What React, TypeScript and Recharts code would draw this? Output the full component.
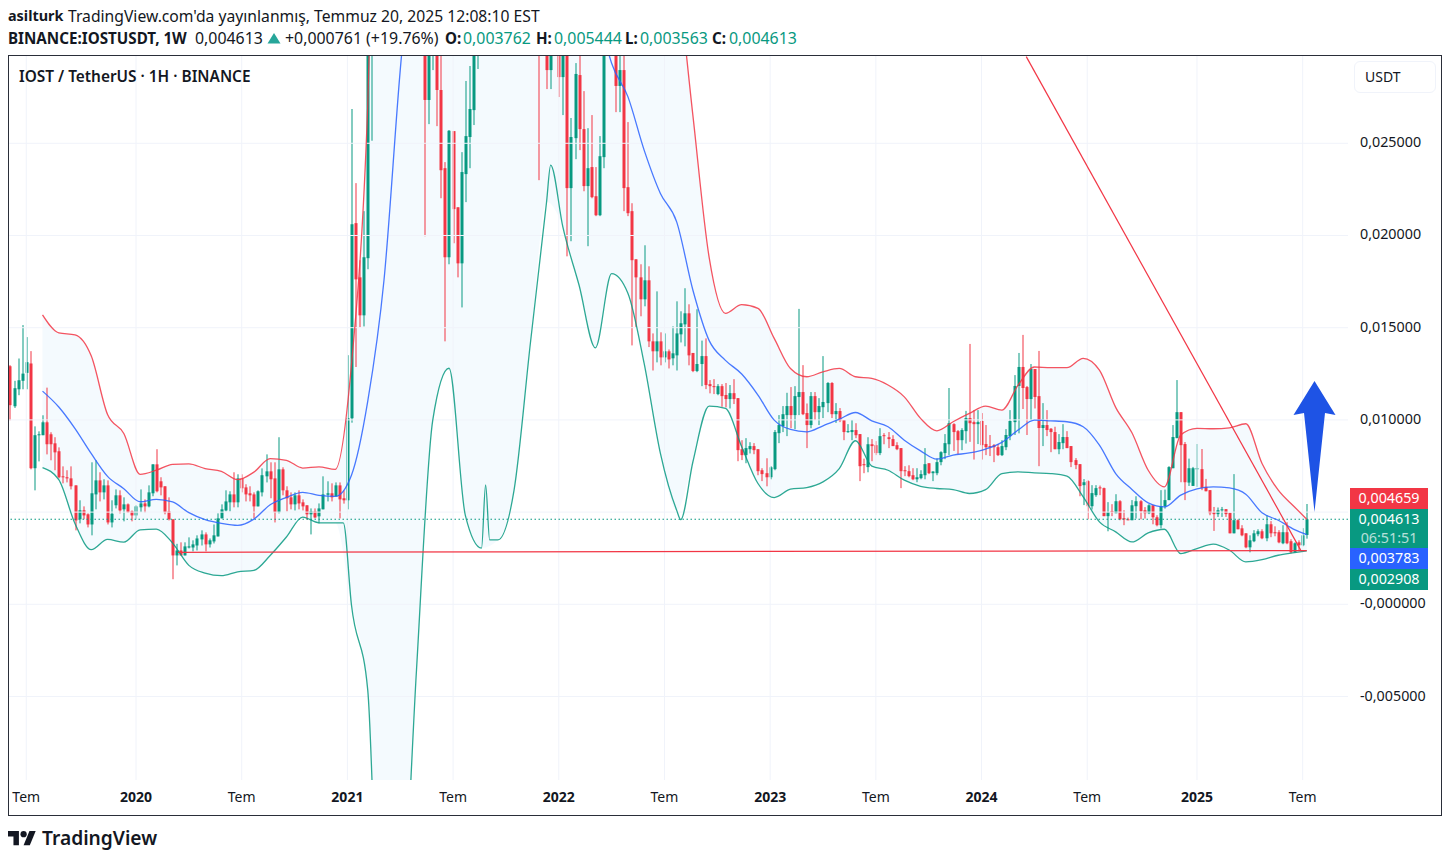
import React from 'react';
import { ComposedChart, Area, Bar, Line, XAxis, YAxis, ReferenceLine } from 'recharts';

// weekly candles [open, high, low, close], in 0.00001 USDT
const candles2019 = [
  [1291,1297,998,1080],[1074,1212,1065,1172],[1166,1333,1134,1215],[1212,1514,1166,1251],[1255,1449,1166,1313],
  [1306,1373,732,738],[738,965,618,917],[917,938,775,922],[917,1025,917,987],[987,1175,813,868],
  [922,933,781,868],[873,906,727,824],[830,851,683,689],[694,748,656,689],[689,727,661,683],
  [683,748,623,640],[645,645,401,455],[461,564,439,510],[510,531,461,482],[488,493,417,433],
  [433,770,374,602],[596,781,515,672],[672,716,558,607],[607,678,569,645],[645,672,433,444],
  [444,564,417,491],[537,623,520,591],[591,618,493,509],[515,580,450,542],[542,547,497,499],[504,509,450,482],
];
const candles2020 = [
  [482,537,460,531],[526,623,500,547],[547,569,498,531],[531,645,526,607],[602,759,586,759],
  [759,841,607,613],[667,689,591,634],[640,640,488,499],[504,580,455,461],[461,461,136,265],
  [265,328,211,292],[292,336,265,265],[265,336,265,314],[308,363,303,314],[308,347,287,325],
  [319,374,292,357],[352,401,319,379],[379,390,287,325],[325,357,308,347],[341,433,330,374],
  [368,493,368,466],[466,542,466,515],[509,618,504,558],[553,613,504,596],[596,716,526,553],
  [553,705,526,683],[683,705,607,629],[634,651,558,596],[602,640,558,591],[596,607,466,531],
  [531,618,531,613],[607,737,585,700],[694,813,661,721],[721,770,575,678],[683,770,444,499],
  [499,906,493,732],[732,743,591,618],[618,640,504,575],[580,607,515,542],[542,607,509,591],
  [591,618,515,547],[553,569,509,531],[537,537,460,488],[488,520,379,504],[504,520,466,471],
  [477,547,439,520],[515,694,515,596],[594,667,558,602],[602,656,558,580],[585,661,585,645],
  [645,661,466,569],[575,618,546,564],
];
const candles2021 = [
  [564,1351,515,1009],[1009,2686,985,2061],[2067,2284,1287,1762],[1773,1866,1502,1567],[1567,2132,1507,1882],
  [1877,3500,1817,3300],[3300,3900,2514,3700],[3700,4400,3500,4200],[4200,4800,4000,4600],[4600,5500,4400,5200],
  [5200,5600,4800,5000],[5000,6200,4800,5800],[5800,6100,5100,5400],[5400,6600,5200,6300],[6300,6700,5600,5900],
  [5900,6100,5000,5300],[5300,5500,4500,4800],[4800,4900,3900,4200],[4200,4300,3300,3600],[3600,3700,1996,2735],
  [2735,3400,2604,3300],[3300,3600,2897,3400],[3400,3500,2593,2789],[2789,3200,2202,2354],[2365,2398,1426,1882],
  [1882,2572,1844,2568],[2566,2566,1958,2143],[2153,2153,1773,1849],[1849,2452,1610,2344],[2333,2838,2181,2539],
  [2534,2919,2365,2686],[2680,3500,2599,3300],[3300,3800,2903,3600],[3600,4300,3400,4100],[4100,4400,3500,3800],
  [3800,4600,3600,4400],[4400,4700,3800,4100],[4100,4900,3900,4700],[4700,5000,4000,4300],[4300,5100,4100,4800],
  [4800,5000,4100,4400],[4400,4500,3700,4000],[4000,4600,3700,4300],[4300,4400,3600,3900],[3900,4000,3300,3600],
  [3600,4000,3300,3800],[3800,3900,3200,3500],[3500,3600,2300,3200],[3200,3700,3100,3500],[3300,3500,2794,2897],
  [2897,3400,2794,3200],[3200,3400,3030,3100],
];
const candles2022 = [
  [3200,3400,2751,2859],[2859,3300,2653,3100],[3100,3300,1887,2257],[2257,2637,1969,2534],[2528,2935,2414,2876],
  [2870,3040,2463,2577],[2577,2783,2240,2268],[2268,2582,1942,2365],[2371,2653,2202,2208],[2213,2371,2105,2110],
  [2110,2539,2105,2430],[2425,3400,2365,3200],[3200,3700,3100,3500],[3500,3600,3100,3200],[3200,3400,2669,2811],
  [2811,3050,2669,2897],[2897,3050,2132,2257],[2262,2615,2105,2121],[2132,2175,1404,1866],[1871,1871,1504,1773],
  [1773,1844,1562,1654],[1654,1947,1616,1757],[1757,1833,1395,1426],[1426,1469,1268,1372],[1372,1697,1312,1426],
  [1426,1475,1296,1339],[1339,1469,1312,1372],[1372,1382,1279,1328],[1334,1507,1296,1361],[1350,1643,1268,1469],
  [1464,1589,1420,1524],[1518,1714,1399,1578],[1578,1627,1296,1350],[1363,1363,1259,1265],[1265,1600,1259,1303],
  [1303,1430,1183,1346],[1346,1442,1167,1189],[1194,1216,1144,1183],[1183,1221,1140,1178],[1140,1194,1134,1183],
  [1183,1194,1071,1129],[1135,1200,1068,1113],[1113,1189,1062,1145],[1145,1221,1086,1113],[1118,1118,776,836],
  [841,890,782,809],[809,901,765,847],[841,879,818,858],[858,874,814,836],[841,841,700,722],
  [727,738,668,706],[711,792,640,689],
];
const candles2023 = [
  [689,749,678,743],[733,945,727,934],[928,1026,874,972],[966,1075,934,1031],[1026,1147,912,1075],
  [1075,1178,955,1026],[1026,1183,950,1129],[1124,1602,1026,1151],[1151,1297,1026,1031],[1037,1089,847,972],
  [972,1151,955,1129],[1129,1151,999,1042],[1042,1118,972,1075],[1069,1346,1010,1097],[1091,1205,1042,1200],
  [1200,1205,1010,1031],[1031,1091,984,1048],[1048,1064,988,997],[999,999,890,934],[934,977,930,939],
  [934,999,890,945],[945,982,901,917],[923,923,668,749],[760,790,711,754],[744,906,716,868],
  [868,896,776,858],[863,885,809,820],[820,955,809,912],[917,928,868,912],[906,934,847,896],
  [896,917,858,858],[863,879,836,841],[847,847,630,722],[727,749,695,722],[722,754,689,695],
  [700,738,673,678],[678,738,662,689],[684,727,678,706],[700,847,678,760],[765,765,706,711],
  [711,722,668,720],[711,792,700,771],[771,830,754,825],[820,923,787,874],[868,1173,809,982],
  [977,982,832,934],[939,945,814,890],[890,955,836,945],[939,1049,872,1010],[1010,1412,881,982],
  [988,1053,785,977],[977,1053,869,988],
];
const candles2024 = [
  [994,1037,785,863],[869,972,809,852],[858,918,804,852],[863,869,771,852],[852,869,804,809],
  [809,890,804,858],[852,950,836,918],[912,1053,890,994],[988,1243,918,1184],[1184,1363,927,1287],
  [1287,1461,1059,1173],[1178,1184,918,1113],[1113,1303,999,1276],[1276,1276,1062,1124],[1129,1374,749,956],
  [956,1091,858,972],[972,1053,912,945],[952,956,825,934],[934,963,841,841],[841,923,814,880],
  [874,977,841,907],[907,939,847,847],[858,858,744,771],[782,793,733,755],[760,760,586,641],
  [646,679,538,662],[668,673,461,532],[532,646,514,603],[592,646,583,630],[634,644,592,630],
  [630,633,478,478],[478,554,396,499],[505,543,478,499],[494,597,494,559],[559,565,456,461],
  [467,510,429,460],[461,470,456,458],[456,565,456,537],[532,586,465,559],[559,565,461,505],
  [510,527,465,494],[494,543,489,537],[537,537,434,472],[472,483,423,429],[429,619,412,532],
  [532,622,519,565],[565,749,565,744],[738,972,738,907],[901,1216,901,1042],[1042,1042,662,863],
  [869,880,565,662],[660,790,642,738],[642,745,642,738],
];
const candles2025 = [
  [732,869,637,738],[733,842,619,631],[637,680,613,613],[619,619,483,494],[499,528,398,489],
  [489,525,474,510],[510,528,474,515],[516,516,474,489],[496,496,385,385],[385,706,385,456],
  [456,461,407,407],[412,429,369,374],[385,385,304,309],[309,374,282,347],[342,402,337,385],
  [380,407,369,396],[396,407,353,358],[358,483,342,434],[434,451,364,385],[391,423,369,385],
  [391,402,331,336],[331,429,326,391],[391,445,326,331],[342,353,277,282],[282,336,282,331],
  [336,347,293,320],[320,413,315,374],[376,544,356,461],
];

// Bollinger bands read every 4 candles from candle 8 on, same unit
const upperBand = [
  1570,1472,1461,1346,1029,926,705,727,759,761,736,721,676,717,790,781,739,745,732,1300,
  2700,6000,8000,9000,9500,9700,9800,9800,9600,9300,8800,8200,7600,7000,6300,5700,5000,4500,4000,3450,
  2650,1880,1578,1625,1605,1442,1279,1234,1261,1279,1234,1225,1189,1125,1008,941,990,1035,
  1075,1053,1189,1287,1283,1283,1334,1270,1068,930,727,637,918,954,952,957,979,764,619,528,461,
];
const midBand = [
  1156,1070,953,817,694,627,556,569,555,497,459,439,428,462,540,580,607,591,585,700,
  1100,1757,2897,3800,4500,5000,5400,5500,5400,5200,5000,4700,4300,3900,3300,2934,2753,2463,2228,2074,
  1703,1430,1323,1249,1135,999,948,935,968,1004,1040,995,963,890,832,787,809,821,842,878,
  945,999,995,990,963,863,709,623,550,528,592,626,637,631,597,496,456,405,378,
];
const lowerBand = [
  741,676,437,296,352,337,404,408,332,211,169,155,176,184,265,365,473,442,442,-4,
  -464,-2500,-2000,-356,999,1280,484,305,349,619,1413,2183,2047,1730,1391,1793,1687,1306,818,510,
  773,1075,1062,854,655,579,624,633,664,736,887,749,727,673,640,628,622,601,622,709,
  718,713,709,695,583,447,393,338,387,407,275,302,326,293,230,242,266,280,290,
];
// extra points on the lower band where it turns sharply
const lowerExtraAt = [82, 117, 118, 133, 165];
const lowerExtra = [442, 647, 349, 2382, 459];

const timeTicks = [4, 31, 57, 83, 109, 135, 161, 187, 213, 239, 265, 292, 318];
const timeLabels = ['Tem', '2020', 'Tem', '2021', 'Tem', '2022', 'Tem', '2023', 'Tem', '2024', 'Tem', '2025', 'Tem'];
const priceTicks = [0.025, 0.02, 0.015, 0.01, 0.005, 0, -0.005];

const lastPrice = 0.004613;
const UP = '#089981';
const DOWN = '#f23645';
const GRID = '#f0f3fa';
const UNIT = 1e-5;
const FONT = '"Noto Sans", sans-serif';

const candles = [...candles2019, ...candles2020, ...candles2021, ...candles2022, ...candles2023, ...candles2024, ...candles2025];

const rows: any[] = candles.map(([o, h, l, c], i) => ({
  i,
  open: o * UNIT,
  high: h * UNIT,
  low: l * UNIT,
  close: c * UNIT,
  range: [l * UNIT, h * UNIT],
}));
upperBand.forEach((_, k) => {
  const row = rows[Math.min(8 + 4 * k, rows.length - 1)];
  row.upper = upperBand[k] * UNIT;
  row.mid = midBand[k] * UNIT;
  row.lower = lowerBand[k] * UNIT;
  row.band = [row.lower, row.upper];
});
lowerExtraAt.forEach((at, k) => {
  rows[at].lower = lowerExtra[k] * UNIT;
});

function Candle(props: any) {
  const { x, y, width, height, payload } = props;
  const { open, high, low, close } = payload;
  const perValue = height / (high - low || 1);
  const top = y + (high - Math.max(open, close)) * perValue;
  const bottom = y + (high - Math.min(open, close)) * perValue;
  const color = close >= open ? UP : DOWN;
  const cx = Math.round(x + width / 2);
  return (
    <g>
      <rect x={cx - 0.5} y={y} width={1} height={height} fill={color} />
      <rect x={cx - 1.5} y={top} width={3} height={Math.max(bottom - top, 1)} fill={color} />
    </g>
  );
}

function TimeTick(props: any) {
  const { x, y, payload } = props;
  const label = timeLabels[timeTicks.indexOf(payload.value)];
  const isYear = label !== 'Tem';
  return (
    <text x={x} y={y + 14} textAnchor="middle" fontFamily={FONT} fontSize={14} fontWeight={isYear ? 700 : 400} fill="#131722">
      {label}
    </text>
  );
}

function PriceTick(props: any) {
  const { x, y, payload } = props;
  if (payload.value === 0.005) return null;
  const text = (payload.value <= 0 ? '-' : '') + Math.abs(payload.value).toFixed(6).replace('.', ',');
  return (
    <text x={x} y={y + 4} fontFamily={FONT} fontSize={14.3} fill="#131722">
      {text}
    </text>
  );
}

function PriceTag({ top, height, bg, children }: any) {
  return (
    <div style={{ position: 'absolute', left: 1350, top, width: 78, height, background: bg, color: '#fff', fontSize: 14.3, lineHeight: '20px', textAlign: 'center' }}>
      {children}
    </div>
  );
}

function Label({ x, y, bold, size, color, children }: any) {
  return (
    <span style={{ position: 'absolute', left: x, top: y, whiteSpace: 'nowrap', fontSize: size || (bold ? 15.2 : 15.9), lineHeight: '20px', fontWeight: bold ? 700 : 400, color: color || '#131722' }}>
      {children}
    </span>
  );
}

export default function App() {
  return (
    <div style={{ position: 'absolute', left: 0, top: 0, width: 1450, height: 862, background: '#fff', fontFamily: FONT, overflow: 'hidden' }}>
      <Label x={8} y={6} bold size={14.4}>asilturk</Label>
      <Label x={68} y={6} size={15.7}>TradingView.com'da yayınlanmış, Temmuz 20, 2025 12:08:10 EST</Label>
      <Label x={8} y={28} bold>BINANCE:IOSTUSDT, 1W</Label>
      <Label x={195} y={28}>0,004613</Label>
      <Label x={285} y={28}>+0,000761 (+19.76%)</Label>
      <Label x={445} y={28} bold>O:</Label>
      <Label x={463} y={28} color={UP}>0,003762</Label>
      <Label x={536} y={28} bold>H:</Label>
      <Label x={554} y={28} color={UP}>0,005444</Label>
      <Label x={625} y={28} bold>L:</Label>
      <Label x={640} y={28} color={UP}>0,003563</Label>
      <Label x={712} y={28} bold>C:</Label>
      <Label x={729} y={28} color={UP}>0,004613</Label>

      <div style={{ position: 'absolute', left: 0, top: 0 }}>
        <ComposedChart width={1450} height={862} data={rows} margin={{ top: 56, right: 8, bottom: 47, left: 9 }}>
          <XAxis
            dataKey="i"
            type="number"
            domain={[-0.246, 329.15]}
            allowDataOverflow
            ticks={timeTicks}
            interval={0}
            height={35}
            axisLine={false}
            tickLine={false}
            tick={<TimeTick />}
          />
          <YAxis
            orientation="right"
            type="number"
            domain={[-0.009528, 0.029734]}
            allowDataOverflow
            ticks={priceTicks}
            interval={0}
            width={94}
            axisLine={false}
            tickLine={false}
            tickMargin={6}
            tick={<PriceTick />}
          />
          {timeTicks.map((t) => <ReferenceLine key={'x' + t} x={t} stroke={GRID} />)}
          {priceTicks.map((p) => <ReferenceLine key={'y' + p} y={p} stroke={GRID} />)}
          <ReferenceLine y={lastPrice} stroke={UP} strokeDasharray="1.5 2.5" />
          <Area dataKey="band" type="monotone" connectNulls stroke="none" fill="#2196f3" fillOpacity={0.05} dot={false} activeDot={false} isAnimationActive={false} />
          <Line dataKey="upper" type="monotone" connectNulls stroke={DOWN} strokeOpacity={0.85} strokeWidth={1.3} dot={false} activeDot={false} isAnimationActive={false} />
          <Line dataKey="mid" type="monotone" connectNulls stroke="#2962ff" strokeOpacity={0.85} strokeWidth={1.3} dot={false} activeDot={false} isAnimationActive={false} />
          <Line dataKey="lower" type="monotone" connectNulls stroke={UP} strokeOpacity={0.85} strokeWidth={1.3} dot={false} activeDot={false} isAnimationActive={false} />
          <Bar dataKey="range" barSize={3} shape={<Candle />} isAnimationActive={false} />
          <ReferenceLine segment={[{ x: 41.3, y: 0.00282 }, { x: 319, y: 0.00291 }]} stroke={DOWN} strokeWidth={1.3} />
          <ReferenceLine segment={[{ x: 250, y: 0.0297 }, { x: 317.5, y: 0.00294 }]} stroke={DOWN} strokeWidth={1.2} />
        </ComposedChart>
      </div>

      <div style={{ position: 'absolute', left: 19, top: 67, fontSize: 15.4, lineHeight: '20px', fontWeight: 600, color: '#131722' }}>
        IOST / TetherUS · 1H · BINANCE
      </div>
      <div style={{ position: 'absolute', left: 1354, top: 61, width: 82, height: 32, boxSizing: 'border-box', border: '1px solid #f0f3fa', borderRadius: 6, background: '#fff', fontSize: 14, lineHeight: '30px', paddingLeft: 10, color: '#131722' }}>
        USDT
      </div>

      <PriceTag top={488} height={21} bg={DOWN}>0,004659</PriceTag>
      <PriceTag top={509} height={39} bg={UP}>
        0,004613
        <div style={{ opacity: 0.7, lineHeight: '17px' }}>06:51:51</div>
      </PriceTag>
      <PriceTag top={548} height={21} bg="#2962ff">0,003783</PriceTag>
      <PriceTag top={569} height={21} bg={UP}>0,002908</PriceTag>

      <svg style={{ position: 'absolute', left: 0, top: 0, pointerEvents: 'none' }} width={1450} height={862}>
        <polygon points="274,33 280.5,43.5 267.5,43.5" fill="#26a69a" />
        <polygon points="1314.5,381 1335.5,415 1325,413 1314.5,512 1304,413 1293.5,415" fill="#1e53e5" />
        <g transform="translate(8 828) scale(0.78)" fill="#131722">
          <path d="M14 22H7V11H0V4h14v18z" />
          <path d="M28 22h-8l7.5-18h8L28 22z" />
          <circle cx="20" cy="8" r="4" />
        </g>
      </svg>
      <div style={{ position: 'absolute', left: 42, top: 825, fontSize: 19.2, lineHeight: '26px', fontWeight: 600, color: '#131722' }}>TradingView</div>

      <div style={{ position: 'absolute', left: 8, top: 55, width: 1434, height: 761, boxSizing: 'border-box', border: '1px solid #2a2e39', pointerEvents: 'none' }} />
    </div>
  );
}
